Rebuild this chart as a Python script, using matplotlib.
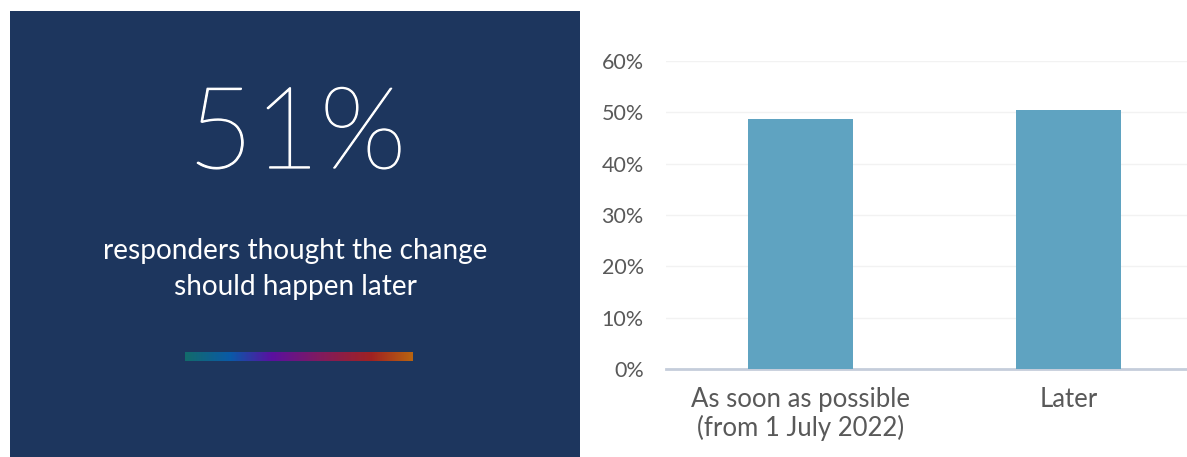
import matplotlib
matplotlib.use("Agg")
import matplotlib.pyplot as plt
import matplotlib.patheffects as pe
import numpy as np
from matplotlib.colors import LinearSegmentedColormap

# Datos del grafico
categorias = ["As soon as possible\n(from 1 July 2022)", "Later"]
valores = [48.7, 50.5]
yticks = [0, 10, 20, 30, 40, 50, 60]
titular = "51%"
subtitulo = "responders thought the change\nshould happen later"

W, H = 1187, 457
fig = plt.figure(figsize=(W / 100, H / 100), dpi=100)
fig.patch.set_facecolor("white")

# Panel izquierdo oscuro
panel = fig.add_axes([10 / W, 0, 570 / W, (H - 11) / H])
panel.set_facecolor("#1d365e")
panel.set_xticks([])
panel.set_yticks([])
for s in panel.spines.values():
    s.set_visible(False)

# fuente fina, engrosada un poco con un trazo
panel.text(287, 137 - 11, titular, color="white", fontsize=82, fontweight=100,
           family="Lato", ha="center", va="center",
           path_effects=[pe.withStroke(linewidth=0.9, foreground="white")])
panel.text(285, 269 - 11, subtitulo, color="white", fontsize=20.2, family="Lato",
           ha="center", va="center", linespacing=1.5)

# Barra con degradado
cmap = LinearSegmentedColormap.from_list("grad", [
    (0.0, "#136b6b"), (0.2, "#0a5aa8"), (0.38, "#5a10a0"),
    (0.58, "#7e1a62"), (0.82, "#a02222"), (1.0, "#b86410")])
grad = np.linspace(0, 1, 256).reshape(1, -1)
panel.imshow(grad, cmap=cmap, aspect="auto", extent=[175, 403, 350, 341], zorder=2)
panel.set_xlim(0, 570)
panel.set_ylim(446, 0)

# Grafico de barras
ax = fig.add_axes([666 / W, 88 / H, (W - 666) / W, 308 / H])
x = np.arange(len(categorias))
ax.bar(x, valores, width=0.39, color="#5fa3c1", zorder=3)
ax.set_xlim(-0.5, 1.44)
ax.set_ylim(0, 60)
ax.set_yticks(yticks)
ax.set_yticklabels([f"{v}%" for v in yticks])
ax.set_xticks(x)
ax.set_xticklabels(categorias)
ax.grid(axis="y", color="#f2f2f2", linewidth=1, zorder=0)
for s in ["top", "right", "left"]:
    ax.spines[s].set_visible(False)
ax.spines["bottom"].set_color("#c5cddb")
ax.spines["bottom"].set_linewidth(2)
ax.tick_params(axis="both", length=0, colors="#595959")
ax.tick_params(axis="y", pad=16, labelsize=15.5)
ax.tick_params(axis="x", pad=13, labelsize=18.5)
for t in ax.get_xticklabels() + ax.get_yticklabels():
    t.set_family("Lato")
    t.set_color("#595959")
for t in ax.get_xticklabels():
    t.set_linespacing(1.15)

fig.savefig("out.png", dpi=100, facecolor="white")
